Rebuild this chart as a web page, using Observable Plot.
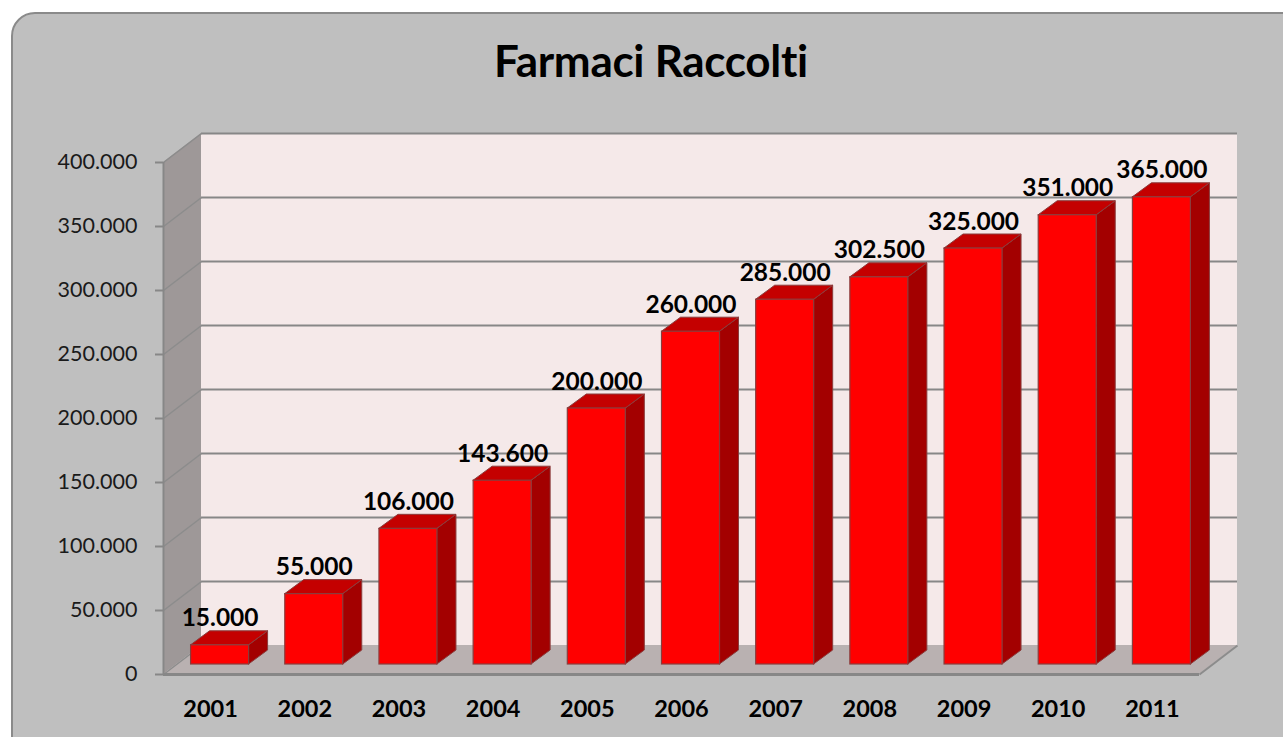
<!DOCTYPE html>
<html>
<head>
<meta charset="utf-8">
<script src="https://cdn.jsdelivr.net/npm/d3@7"></script>
<script src="https://cdn.jsdelivr.net/npm/@observablehq/plot@0.6"></script>
<style>
  html, body { margin: 0; padding: 0; background: #ffffff; width: 1283px; height: 737px; overflow: hidden; position: relative; }
  #box { position: absolute; left: 11px; top: 12px; width: 1300px; height: 760px; background: #bfbfbf; border: 2px solid #8a8a8a; border-radius: 24px; box-sizing: border-box; }
  #title { position: absolute; left: 0; width: 1302px; top: 38px; text-align: center; font-family: Lato, "Open Sans", sans-serif; font-weight: 700; font-size: 44px; line-height: 44px; color: #000; letter-spacing: -0.3px; }
  #chart { position: absolute; left: 0; top: 0; }
</style>
</head>
<body>
<div id="box"></div>
<div id="title">Farmaci Raccolti</div>
<div id="chart"></div>
<script>
// ---- data ----
const years = ["2001","2002","2003","2004","2005","2006","2007","2008","2009","2010","2011"];
const values = [15000, 55000, 106000, 143600, 200000, 260000, 285000, 302500, 325000, 351000, 365000];
const yTicks = [0, 50000, 100000, 150000, 200000, 250000, 300000, 350000, 400000];
const yMax = 400000;

// ---- layout (pixels) ----
const W = 1283, H = 737;
const mLeft = 163, mRight = 84, mTop = 162, mBottom = 63;
const n = years.length;
const pxX = (W - mLeft - mRight) / n;          // px per category unit
const pxY = (H - mTop - mBottom) / yMax;       // px per value unit
const ux = p => p / pxX;                         // px -> x units
const uy = p => p / pxY;                         // px -> y units

// oblique depth of the plot box, bars, offsets (pixels)
const wallDX = ux(38), wallDY = uy(29);
const barW = ux(58), barOX = ux(9.5), barOY = uy(10);
const barDX = ux(19), barDY = uy(14);

const it = d3.formatLocale({decimal: ",", thousands: ".", grouping: [3], currency: ["", ""]});
const fmt = it.format(",");

const bars = years.map((yr, i) => {
  const c = i + 0.5 + barOX;
  return {yr, v: values[i], i, x1: c - barW / 2, x2: c + barW / 2, c};
});

const frontFaces = bars.map(b => ({...b, y1: barOY, y2: b.v + barOY}));
const topFaces = bars.flatMap(b => [
  {i: b.i, y: b.v + barOY, x1: b.x1, x2: b.x2},
  {i: b.i, y: b.v + barOY + barDY, x1: b.x1 + barDX, x2: b.x2 + barDX}
]);
const sideFaces = bars.flatMap(b => [
  {i: b.i, x: b.x2, y1: barOY, y2: b.v + barOY},
  {i: b.i, x: b.x2 + barDX, y1: barOY + barDY, y2: b.v + barOY + barDY}
]);

const gridTicks = yTicks.filter(t => t > 0);
const FONT = "Lato, 'Open Sans', sans-serif";

const plot = Plot.plot({
  width: W, height: H,
  marginLeft: mLeft, marginRight: mRight, marginTop: mTop, marginBottom: mBottom,
  style: {background: "transparent", overflow: "visible", fontFamily: FONT},
  x: {domain: [0, n], axis: null},
  y: {domain: [0, yMax], axis: null},
  marks: [
    // back wall
    Plot.rect([0], {x1: wallDX, x2: n + wallDX, y1: wallDY, y2: yMax + wallDY, fill: "#f5e9e9"}),
    // left wall
    Plot.areaY([{x: 0, y1: 0, y2: yMax}, {x: wallDX, y1: wallDY, y2: yMax + wallDY}],
      {x: "x", y1: "y1", y2: "y2", fill: "#9e9898"}),
    // floor
    Plot.areaX([{y: 0, x1: 0, x2: n}, {y: wallDY, x1: wallDX, x2: n + wallDX}],
      {y: "y", x1: "x1", x2: "x2", fill: "#b9b1b1"}),
    // gridlines on back wall
    Plot.ruleY(gridTicks, {y: d => d + wallDY, x1: wallDX, x2: n + wallDX, stroke: "#878787", strokeWidth: 2}),
    // diagonal gridlines on left wall
    Plot.link(yTicks, {x1: 0, y1: d => d, x2: wallDX, y2: d => d + wallDY, stroke: "#8c8c8c", strokeWidth: 1.5}),
    // floor right edge
    Plot.link([0], {x1: n, y1: 0, x2: n + wallDX, y2: wallDY, stroke: "#8c8c8c", strokeWidth: 2}),
    // bars: side, top, front
    Plot.areaY(sideFaces, {x: "x", y1: "y1", y2: "y2", z: "i", fill: "#a30000", stroke: "#8a3c3c", strokeWidth: 1}),
    Plot.areaX(topFaces, {y: "y", x1: "x1", x2: "x2", z: "i", fill: "#c40000", stroke: "#8a3c3c", strokeWidth: 1}),
    Plot.rect(frontFaces, {x1: "x1", x2: "x2", y1: "y1", y2: "y2", fill: "#ff0000", stroke: "#8a3c3c", strokeWidth: 1.2}),
    // front floor edge (x axis line) and y axis line
    Plot.ruleY([0], {x1: 0, x2: n, stroke: "#878787", strokeWidth: 3}),
    Plot.ruleX([0], {y1: 0, y2: yMax, stroke: "#878787", strokeWidth: 2}),
    // y axis ticks + labels
    Plot.axisY(yTicks, {anchor: "left", tickSize: 8, tickPadding: 18, tickFormat: fmt,
      stroke: "#878787", strokeWidth: 2, fill: "#1a1a1a", fontSize: 21.5, fontFamily: FONT}),
    // value labels
    Plot.text(bars, {x: "c", y: d => d.v + barOY + barDY, text: d => fmt(d.v), dy: -5, lineAnchor: "bottom",
      fontSize: 24.5, fontWeight: 700, fill: "#000", fontFamily: FONT}),
    // category labels
    Plot.text(bars, {x: d => d.i + 0.5, y: 0, text: "yr", dy: 42, lineAnchor: "bottom",
      fontSize: 23.5, fontWeight: 700, fill: "#000", fontFamily: FONT})
  ]
});
document.getElementById("chart").appendChild(plot);
</script>
</body>
</html>
